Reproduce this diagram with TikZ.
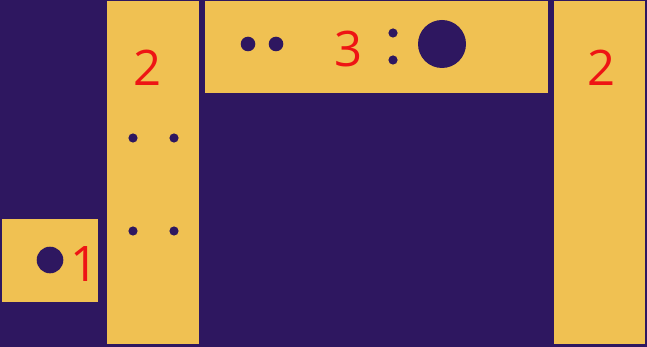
\documentclass[tikz,border=0pt]{standalone}
\usepackage{fontspec}
\setmainfont{Open Sans}
\usepackage{tikz}
\usetikzlibrary{positioning, calc}
\definecolor{tilebg}{RGB}{46,23,96}
\definecolor{tilegold}{RGB}{240,193,82}
\definecolor{tilered}{RGB}{238,20,20}

\begin{document}
\begin{tikzpicture}[x=1pt, y=-1pt,
    tile/.style={fill=tilegold},
    pip/.style={fill=tilebg},
    count/.style={text=tilered, inner sep=0pt, font=\fontsize{49}{49}\selectfont}]
        \fill[tilebg] (0,0) rectangle (647,347);
        \useasboundingbox (0,0) rectangle (647,347);
        % tiles
        \fill[tile] (2,219) rectangle (98,302);
        \fill[tile] (107,1) rectangle (199,344);
        \fill[tile] (205,1) rectangle (548,93);
        \fill[tile] (554,1) rectangle (645,344);
        % tile 1
        \fill[pip] (50,260) circle (13.3);
        \node[count] (one) at (84.5,264.5) {1};
        % left tile 2
        \node[count] (twoL) at (148,67.5) {2};
        \foreach \x in {133,174} {
            \foreach \y in {138,231} { \fill[pip] (\x,\y) circle (4.6); }
        }
        % tile 3
        \node[count] (three) at (348.5,49) {3};
        \foreach \x in {248,276} { \fill[pip] (\x,44) circle (7.3); }
        \foreach \y in {33,60} { \fill[pip] (393,\y) circle (4.6); }
        \fill[pip] (442,44) circle (24);
        % right tile 2
        \node[count] (twoR) at (601,67.5) {2};
    \end{tikzpicture}
\end{document}
